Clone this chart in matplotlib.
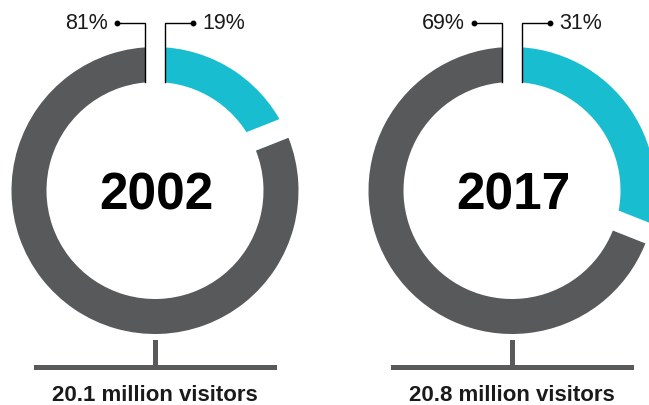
import numpy as np
import matplotlib
matplotlib.use("Agg")
import matplotlib.pyplot as plt
from matplotlib.patches import Polygon, Rectangle

# data
years = ["2002", "2017"]
visitors = ["20.1 million visitors", "20.8 million visitors"]
gray_share = [81, 69]
cyan_share = [19, 31]

GRAY = "#58595b"
CYAN = "#19bdd0"
INK = "#1a1a1a"

# layout, in pixels (y measured upward)
W, H = 649, 406
centers_x = [155, 512]
cy = 214.5
r_out = 143.5
ring = 35.0
r_in = r_out - ring
gap = 20.6

plt.rcParams["font.family"] = ["Liberation Sans", "DejaVu Sans"]

fig = plt.figure(figsize=(W / 100, H / 100), dpi=100)
ax = fig.add_axes([0, 0, 1, 1])

for cx, year, label, g, c in zip(centers_x, years, visitors, gray_share, cyan_share):
    # cyan first, clockwise from 12 o'clock
    ax.pie([c, g], colors=[CYAN, GRAY], startangle=90, counterclock=False,
           center=(cx, cy), radius=r_out, frame=True,
           wedgeprops=dict(width=ring, linewidth=0))

    # white gaps: one centred on 12 o'clock, one on the cyan side of the split
    ax.add_patch(Rectangle((cx - gap / 2, cy), gap, r_out + 10,
                           facecolor="white", edgecolor="none", zorder=3))
    th = np.deg2rad(90 - 360 * c / (c + g))
    d = np.array([np.cos(th), np.sin(th)])
    n = np.array([-np.sin(th), np.cos(th)])
    p0 = np.array([cx, cy])
    L = r_out + 20
    ax.add_patch(Polygon([p0, p0 + L * d, p0 + L * d + gap * n, p0 + gap * n],
                         closed=True, facecolor="white", edgecolor="none", zorder=3))

    # leader lines and labels
    top_y = H - 24
    for side, val in ((-1, g), (1, c)):
        x0 = cx + side * gap / 2
        xd = cx + side * 38
        ax.plot([x0, x0, xd], [cy + r_in, top_y, top_y], color="black",
                lw=1.0, solid_joinstyle="miter", zorder=5)
        ax.plot(xd, top_y, "o", color="black", ms=3.2, zorder=5)
        ax.text(xd + side * 9, H - 29.3, f"{val}%", fontsize=15.5, color=INK,
                ha="left" if side > 0 else "right", va="baseline", zorder=6)

    # year in the middle
    ax.text(cx + 1, H - 209.5, year, fontsize=37, fontweight="bold",
            color="black", ha="center", va="baseline", zorder=6)

    # base stand
    ax.add_patch(Rectangle((cx - 2.5, H - 368), 5, 27.5,
                           facecolor=GRAY, edgecolor="none", zorder=4))
    ax.add_patch(Rectangle((cx - 121.5, H - 371), 243, 5,
                           facecolor=GRAY, edgecolor="none", zorder=4))
    ax.text(cx, H - 401.5, label, fontsize=16, fontweight="bold",
            color=INK, ha="center", va="baseline", zorder=6)

ax.set_xlim(0, W)
ax.set_ylim(0, H)
ax.set_aspect("auto")
ax.axis("off")

fig.savefig("out.png", dpi=100, facecolor="white")
